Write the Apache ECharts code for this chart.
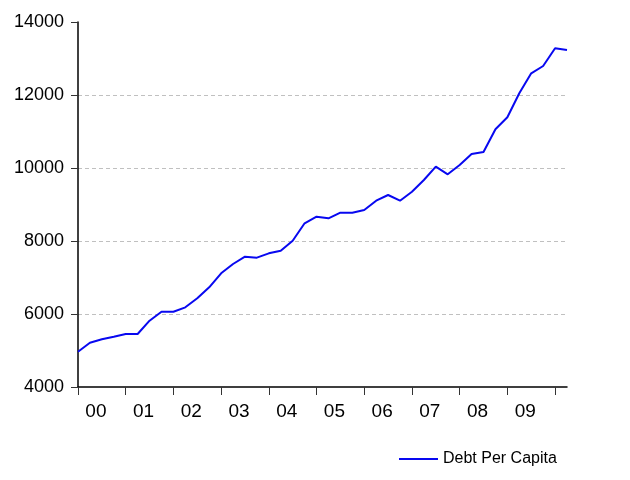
<!DOCTYPE html>
<html>
<head>
<meta charset="utf-8">
<script src="https://cdn.jsdelivr.net/npm/echarts@6/dist/echarts.min.js"></script>
<style>html,body{margin:0;padding:0;background:#fff}#c{width:630px;height:480px}</style>
</head>
<body>
<div id="c"></div>
<script>
// Quarterly observations 2000Q1 .. 2010Q2
var quarters = [];
for (var y = 2000; y <= 2010; y++) { for (var q = 1; q <= 4; q++) { if (y === 2010 && q > 2) break; quarters.push(y + 'Q' + q); } }
var debtPerCapita = [
  4967, 5214, 5307, 5378,
  5452, 5452, 5817, 6063,
  6063, 6183, 6430, 6731,
  7115, 7370, 7570, 7543,
  7662, 7735, 8008, 8485,
  8667, 8622, 8776, 8776,
  8849, 9104, 9260, 9104,
  9351, 9671, 10036, 9827,
  10082, 10384, 10438, 11060,
  11389, 12047, 12595, 12795,
  13280, 13233
];
var yearLabels = ['00','01','02','03','04','05','06','07','08','09'];
var seriesName = 'Debt Per Capita';

var data = debtPerCapita.map(function (v, i) { return [i, v]; });
var tickVals = yearLabels.map(function (_, i) { return i * 4; }).concat([40]);
var labelVals = yearLabels.map(function (_, i) { return i * 4 + 1.5; });

var chart = echarts.init(document.getElementById('c'), null, { renderer: 'canvas' });
chart.setOption({
  animation: false,
  backgroundColor: '#fff',
  textStyle: { fontFamily: 'Liberation Sans, Arial, sans-serif' },
  grid: { left: 78, right: 63, top: 22, bottom: 93, containLabel: false },
  legend: {
    data: [seriesName],
    left: 394, top: 446,
    itemWidth: 39, itemHeight: 18, itemGap: 7,
    icon: 'path://M0,8 L39,8 L39,10 L0,10 Z',
    textStyle: { fontSize: 16, color: '#000', fontFamily: 'Liberation Sans, Arial, sans-serif' }
  },
  xAxis: {
    type: 'value', min: 0, max: quarters.length - 1,
    axisLine: { show: true, lineStyle: { color: '#000', width: 1.5 } },
    axisTick: { show: true, customValues: tickVals, length: 8, inside: false, lineStyle: { color: '#333', width: 1 } },
    axisLabel: {
      customValues: labelVals, margin: 15, fontSize: 19, color: '#000',
      formatter: function (v) { return yearLabels[Math.floor(v / 4)]; }
    },
    splitLine: { show: false }
  },
  yAxis: {
    type: 'value', min: 4000, max: 14000, interval: 2000,
    axisLine: { show: true, lineStyle: { color: '#000', width: 1.5 } },
    axisTick: { show: true, length: 7, lineStyle: { color: '#333', width: 1 } },
    axisLabel: { margin: 14, fontSize: 18, color: '#000', formatter: function (v) { return String(v); } },
    splitLine: { show: true, showMinLine: false, showMaxLine: false, lineStyle: { color: '#c0c0c0', type: [4, 3], width: 1 } }
  },
  series: [{
    name: seriesName, type: 'line', data: data,
    symbol: 'none', smooth: false,
    lineStyle: { color: '#0808f0', width: 2 },
    itemStyle: { color: '#0808f0' }
  }]
});
</script>
</body>
</html>
